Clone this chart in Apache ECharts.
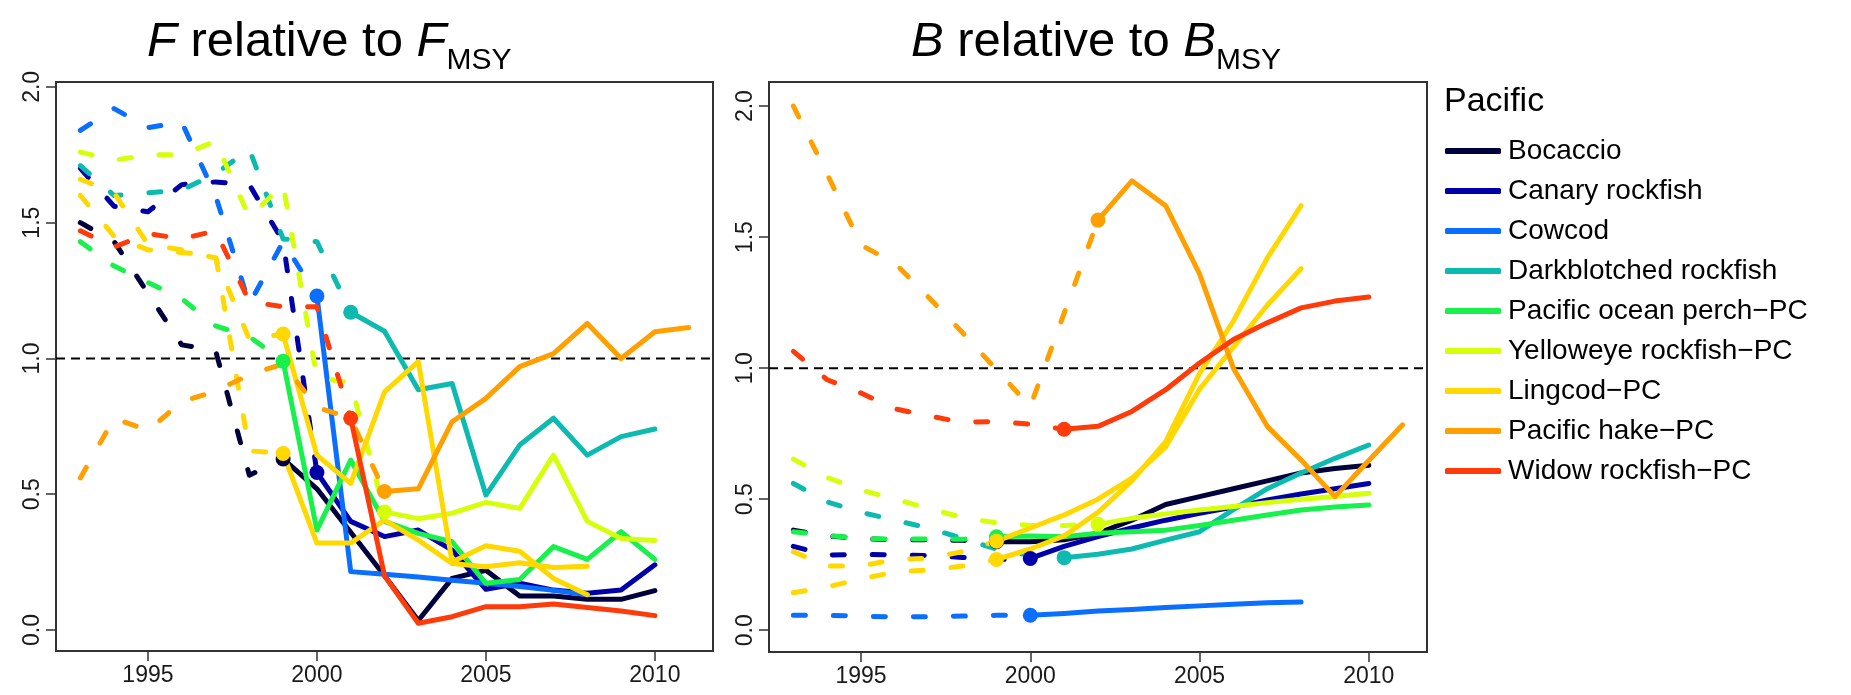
<!DOCTYPE html>
<html><head><meta charset="utf-8">
<script src="https://cdn.jsdelivr.net/npm/echarts@6/dist/echarts.min.js"></script>
<style>html,body{margin:0;padding:0;background:#fff}#c{width:1851px;height:695px}</style>
</head><body><div id="c"></div>
<script>
// ---------- data ----------
const firstYear = 1993;
const speciesNames = ['Bocaccio','Canary rockfish','Cowcod','Darkblotched rockfish','Pacific ocean perch\u2212PC','Yelloweye rockfish\u2212PC','Lingcod\u2212PC','Pacific hake\u2212PC','Widow rockfish\u2212PC'];
const speciesColors = ['#00003C','#0000A8','#0A6EFF','#0DBAB0','#18F04C','#D6FF0A','#FFD800','#FFA000','#FF3B0A'];
const startYears = [1999, 2000, 2000, 2001, 1999, 2002, 1999, 2002, 2001];
const xTickYears = [1995, 2000, 2005, 2010];
const yTickValues = [0, 0.5, 1, 1.5, 2];
const refLevel = 1;

// F relative to F_MSY (yearly from 1993)
const fBocaccio   = [1.50,1.43,1.24,1.05,1.03,0.57,0.63,0.52,0.36,0.20,0.035,0.19,0.22,0.125,0.125,0.113,0.113,0.145];
const fCanary     = [1.70,1.56,1.54,1.64,1.65,1.64,1.43,0.58,0.40,0.344,0.368,0.294,0.15,0.172,0.147,0.135,0.147,0.24];
const fCowcod     = [1.84,1.92,1.85,1.87,1.60,1.20,1.43,1.23,0.215,0.205,0.195,0.183,0.172,0.16,0.146,0.13];
const fDarkblotch = [1.71,1.60,1.61,1.62,1.68,1.77,1.44,1.43,1.17,1.10,0.885,0.908,0.497,0.681,0.78,0.644,0.712,0.74];
const fPOP        = [1.43,1.34,1.28,1.22,1.12,1.08,0.99,0.368,0.626,0.40,0.356,0.325,0.172,0.186,0.307,0.26,0.362,0.26];
const fYelloweye  = [1.76,1.73,1.75,1.75,1.80,1.52,1.64,0.93,0.91,0.435,0.41,0.43,0.47,0.448,0.644,0.40,0.337,0.33];
const fLingcodN   = [1.66,1.61,1.42,1.40,1.37,1.07,1.09,0.644,0.54,0.877,0.988,0.25,0.31,0.29,0.19,0.13];
const fLingcodS   = [1.60,1.45,1.40,1.39,1.38,0.66,0.65,0.32,0.32,0.405,0.331,0.245,0.233,0.248,0.23,0.235];
const fHake       = [0.56,0.78,0.735,0.84,0.88,0.94,0.98,0.82,0.78,0.51,0.52,0.767,0.853,0.97,1.018,1.129,1.0,1.098,1.114];
const fWidow      = [1.47,1.41,1.46,1.44,1.47,1.21,1.19,1.19,0.78,0.20,0.025,0.049,0.086,0.086,0.096,0.083,0.07,0.053];

// B relative to B_MSY (yearly from 1993)
const bBocaccio   = [0.382,0.36,0.35,0.345,0.345,0.343,0.338,0.338,0.345,0.37,0.42,0.48,0.51,0.54,0.57,0.60,0.617,0.63];
const bCanary     = [0.32,0.287,0.29,0.287,0.285,0.278,0.27,0.274,0.32,0.357,0.39,0.42,0.446,0.47,0.497,0.52,0.54,0.56];
const bCowcod     = [0.057,0.057,0.054,0.051,0.052,0.054,0.057,0.057,0.064,0.073,0.079,0.087,0.093,0.099,0.105,0.108];
const bDarkblotch = [0.56,0.49,0.45,0.42,0.39,0.35,0.31,0.285,0.277,0.29,0.31,0.344,0.376,0.46,0.54,0.60,0.656,0.707];
const bPOP        = [0.376,0.362,0.35,0.348,0.348,0.347,0.357,0.36,0.357,0.37,0.376,0.382,0.40,0.42,0.44,0.459,0.47,0.478];
const bYelloweye  = [0.653,0.583,0.535,0.50,0.465,0.43,0.41,0.40,0.40,0.404,0.427,0.444,0.459,0.472,0.487,0.50,0.51,0.523];
const bLingcodN   = [0.30,0.245,0.245,0.27,0.275,0.30,0.34,0.39,0.44,0.50,0.58,0.70,0.92,1.08,1.24,1.38];
const bLingcodS   = [0.143,0.165,0.196,0.222,0.23,0.245,0.27,0.31,0.36,0.45,0.57,0.72,0.98,1.18,1.42,1.62];
const bHake       = [2.0,1.74,1.47,1.40,1.27,1.135,0.994,0.854,1.21,1.565,1.715,1.62,1.36,1.0,0.778,0.65,0.51,0.648,0.784];
const bWidow      = [1.064,0.956,0.905,0.845,0.818,0.793,0.797,0.786,0.767,0.778,0.835,0.918,1.02,1.109,1.173,1.23,1.256,1.272];

const fBySpecies = [[fBocaccio],[fCanary],[fCowcod],[fDarkblotch],[fPOP],[fYelloweye],[fLingcodN,fLingcodS],[fHake],[fWidow]];
const bBySpecies = [[bBocaccio],[bCanary],[bCowcod],[bDarkblotch],[bPOP],[bYelloweye],[bLingcodN,bLingcodS],[bHake],[bWidow]];

// ---------- chart ----------
const FONT = 'Liberation Sans, Arial, sans-serif';
const LW = 5;
const series = [];

function addPanel(p, bySpecies) {
  series.push({
    type: 'line', xAxisIndex: p, yAxisIndex: p, silent: true, symbol: 'none',
    data: [[1992.28, refLevel], [2011.72, refLevel]],
    lineStyle: { color: '#000', width: 2, type: [9, 6] }, z: 1
  });
  bySpecies.forEach((arrs, i) => {
    const color = speciesColors[i];
    const s = startYears[i];
    const k = s - firstYear;
    arrs.forEach(arr => {
      const pre = arr.slice(0, k + 1).map((v, j) => [firstYear + j, v]);
      const post = arr.slice(k).map((v, j) => [s + j, v]);
      series.push({
        type: 'line', name: speciesNames[i], xAxisIndex: p, yAxisIndex: p, data: pre,
        symbol: 'none', silent: true, itemStyle: { color },
        lineStyle: { color, width: LW, type: [12, 28], cap: 'round', join: 'round' }, z: 2
      });
      series.push({
        type: 'line', name: speciesNames[i], xAxisIndex: p, yAxisIndex: p, data: post,
        symbol: 'none', silent: true, itemStyle: { color },
        lineStyle: { color, width: LW, type: 'solid', cap: 'round', join: 'round' }, z: 2
      });
      series.push({
        type: 'scatter', name: 'start', xAxisIndex: p, yAxisIndex: p, silent: true,
        data: [[s, arr[k]]], symbol: 'circle', symbolSize: 15,
        itemStyle: { color, opacity: 1 }, z: 2
      });
    });
  });
}
addPanel(0, fBySpecies);
addPanel(1, bBySpecies);

function xAxisOpt(p) {
  return {
    type: 'value', gridIndex: p, min: 1992.28, max: 2011.72,
    axisLine: { show: false, onZero: false },
    axisTick: { show: true, customValues: xTickYears, length: 10, lineStyle: { color: '#333', width: 1.5 } },
    axisLabel: { customValues: xTickYears, fontSize: 23, color: '#1a1a1a', fontFamily: FONT, margin: 13, formatter: v => String(v) },
    splitLine: { show: false }
  };
}
function yAxisOpt(p, min, max) {
  return {
    type: 'value', gridIndex: p, min, max,
    axisLine: { show: false, onZero: false },
    axisTick: { show: true, customValues: yTickValues, length: 10, lineStyle: { color: '#333', width: 1.5 } },
    axisLabel: { customValues: yTickValues, rotate: 90, fontSize: 23, color: '#1a1a1a', fontFamily: FONT, margin: 12, formatter: v => v.toFixed(1) },
    splitLine: { show: false }
  };
}

const titleRich = {
  it: { fontStyle: 'italic', fontSize: 49, lineHeight: 58, verticalAlign: 'top', fontFamily: FONT, color: '#000' },
  n:  { fontSize: 49, lineHeight: 58, verticalAlign: 'top', fontFamily: FONT, color: '#000' },
  sub:{ fontSize: 30, lineHeight: 30, verticalAlign: 'top', padding: [28, 0, 0, 0], fontFamily: FONT, color: '#000' }
};

const option = {
  animation: false,
  backgroundColor: '#fff',
  title: [
    { text: '{it|F}{n| relative to }{it|F}{sub|MSY}', left: 142, top: 13, textStyle: { fontSize: 49, fontWeight: 'normal', rich: titleRich } },
    { text: '{it|B}{n| relative to }{it|B}{sub|MSY}', left: 906, top: 13, textStyle: { fontSize: 49, fontWeight: 'normal', rich: titleRich } },
    { text: 'Pacific', left: 1439, top: 80, textStyle: { fontSize: 34, fontWeight: 'normal', color: '#000', fontFamily: FONT } }
  ],
  legend: {
    data: speciesNames, orient: 'vertical', left: 1440, top: 131,
    icon: 'roundRect', itemWidth: 56, itemHeight: 6, itemGap: 10, selectedMode: false,
    textStyle: { fontSize: 28, lineHeight: 30, color: '#000', fontFamily: FONT, padding: [0, 0, 0, 2] }
  },
  grid: [
    { left: 56, top: 82, width: 657, height: 569, show: true, borderColor: '#333', borderWidth: 2, backgroundColor: 'transparent' },
    { left: 769, top: 82, width: 658, height: 570, show: true, borderColor: '#333', borderWidth: 2, backgroundColor: 'transparent' }
  ],
  xAxis: [xAxisOpt(0), xAxisOpt(1)],
  yAxis: [yAxisOpt(0, -0.0773, 2.018), yAxisOpt(1, -0.083, 2.092)],
  series
};
const chart = echarts.init(document.getElementById('c'), null, { renderer: 'canvas' });
chart.setOption(option);
</script></body></html>
